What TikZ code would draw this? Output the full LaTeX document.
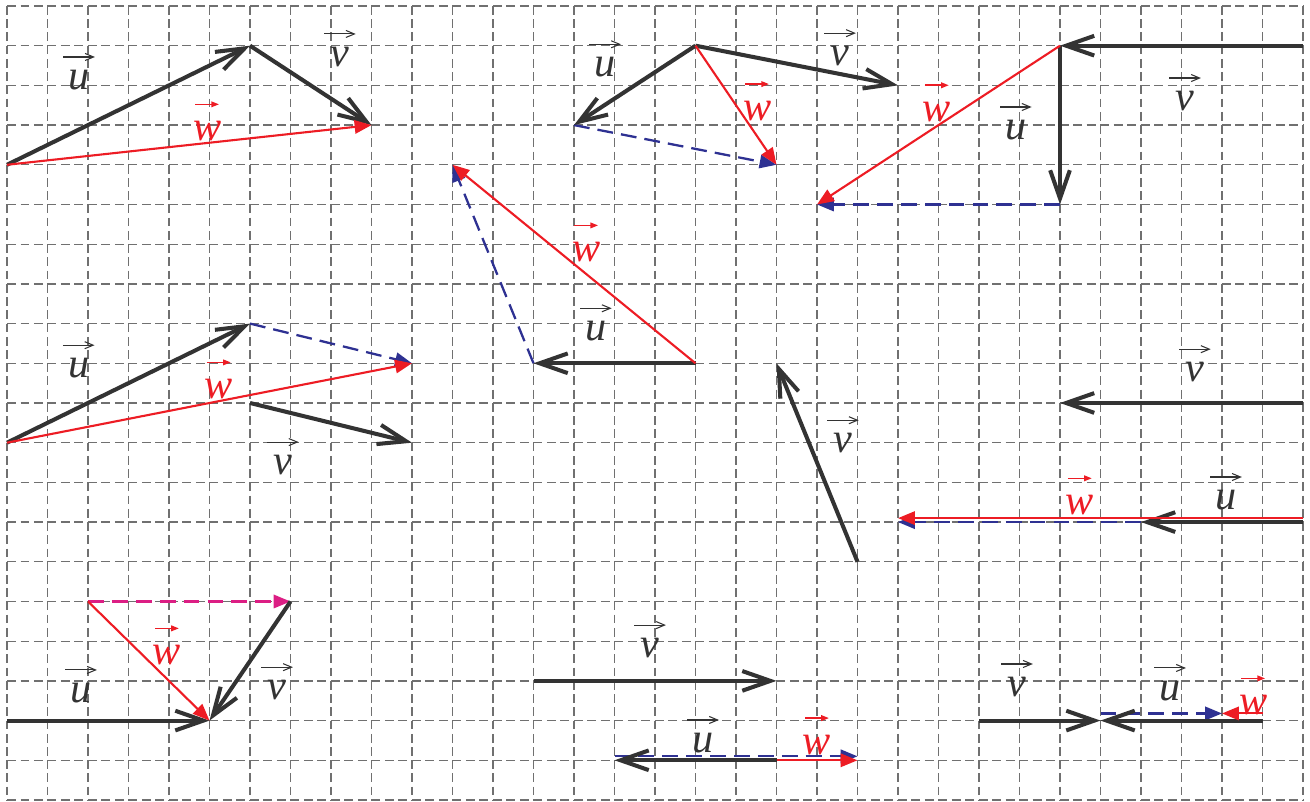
\documentclass[tikz,border=0pt]{standalone}
\usepackage{fontspec}
\setmainfont{Liberation Serif}
\usetikzlibrary{arrows.meta}
\usepackage{xcolor}
\definecolor{vecgray}{HTML}{333333}
\definecolor{gridgray}{HTML}{707070}
\definecolor{wred}{HTML}{ED1C24}
\definecolor{sumblue}{HTML}{2E3192}
\definecolor{summagenta}{HTML}{DC1E84}

\begin{document}
\begin{tikzpicture}[x=4.05mm, y=-3.97mm,
  gridv/.style={gridgray, line width=0.38pt, dash pattern=on 2.5pt off 1.265pt},
  gridh/.style={gridgray, line width=0.38pt, dash pattern=on 2.56pt off 1.28pt},
  vec/.style={vecgray, line width=1.15pt, -{Straight Barb[length=8pt,width=5.6pt]}},
  wvec/.style={wred, line width=0.6pt, -{Triangle[length=4.8pt,width=3.8pt]}},
  sumvec/.style={sumblue, line width=0.65pt, dash pattern=on 4.5pt off 2.3pt,
    -{Triangle[length=4.8pt,width=3.8pt]}},
  lbl/.style={vecgray, inner sep=0pt, font=\fontsize{12}{12}\selectfont\itshape},
  wlbl/.style={lbl, wred},
  lblarrow/.style={vecgray, line width=0.3pt, -{Straight Barb[length=2.4pt,width=2pt]}},
  wlblarrow/.style={wred, line width=0.45pt, -{Triangle[length=2.2pt,width=1.6pt]}}]

% === Wymiary ===
\useasboundingbox (-0.173,-0.151) rectangle (32.173,20.05);

% === Siatka ===
\foreach \i in {0,...,32} {
  \draw[gridv] (\i,0) -- (\i,20);
}
\foreach \j in {0,...,20} {
  \draw[gridh] (0,\j) -- (32,\j);
}

% === Punkty ===
% Figura 1
\coordinate (a1) at (0,4);
\coordinate (b1) at (6,1);
\coordinate (c1) at (9,3);
% Figura 2
\coordinate (a2) at (17,1);
\coordinate (b2) at (14,3);
\coordinate (c2) at (22,2);
\coordinate (d2) at (19,4);
% Figura 3
\coordinate (a3) at (32,1);
\coordinate (b3) at (26,1);
\coordinate (c3) at (26,5);
\coordinate (d3) at (20,5);
% Figura 4
\coordinate (a4) at (0,11);
\coordinate (b4) at (6,8);
\coordinate (c4) at (10,9);
\coordinate (d4) at (6,10);
\coordinate (e4) at (10,11);
% Figura 5
\coordinate (a5) at (17,9);
\coordinate (b5) at (13,9);
\coordinate (c5) at (11,4);
% Figura 6
\coordinate (a6) at (21,14);
\coordinate (b6) at (19,9);
% Figura 7
\coordinate (a7) at (32,10);
\coordinate (b7) at (26,10);
\coordinate (c7) at (32,13);
\coordinate (d7) at (28,13);
\coordinate (e7) at (22,13);
\coordinate (f7) at (32,12.9);
\coordinate (g7) at (22,12.9);
% Figura 8
\coordinate (a8) at (0,18);
\coordinate (b8) at (5,18);
\coordinate (c8) at (7,15);
\coordinate (d8) at (2,15);
% Figura 9
\coordinate (a9) at (13,17);
\coordinate (b9) at (19,17);
\coordinate (c9) at (19,19);
\coordinate (d9) at (15,19);
\coordinate (e9) at (21,19);
\coordinate (f9) at (15,18.9);
\coordinate (g9) at (21,18.9);
% Figura 10
\coordinate (a10) at (24,18);
\coordinate (b10) at (27,18);
\coordinate (c10) at (31,18);
\coordinate (d10) at (27,17.82);
\coordinate (e10) at (30,17.82);
\coordinate (f10) at (31,17.82);

% === Sumy (przerywane) ===
\draw[sumvec] (b2) -- (d2);
\draw[sumvec] (c3) -- (d3);
\draw[sumvec] (b4) -- (c4);
\draw[sumvec] (b5) -- (c5);
\draw[sumvec] (d7) -- (e7);
\draw[sumvec, summagenta] (d8) -- (c8);
\draw[sumvec] (f9) -- (g9);
\draw[sumvec] (d10) -- (e10);

% === Wektory u, v ===
\draw[vec] (a1) -- (b1);
\draw[vec] (b1) -- (c1);
\draw[vec] (a2) -- (b2);
\draw[vec] (a2) -- (c2);
\draw[vec] (a3) -- (b3);
\draw[vec] (b3) -- (c3);
\draw[vec] (a4) -- (b4);
\draw[vec] (d4) -- (e4);
\draw[vec] (a5) -- (b5);
\draw[vec] (a6) -- (b6);
\draw[vec] (a7) -- (b7);
\draw[vec] (c7) -- (d7);
\draw[vec] (a8) -- (b8);
\draw[vec] (c8) -- (b8);
\draw[vec] (a9) -- (b9);
\draw[vec] (c9) -- (d9);
\draw[vec] (a10) -- (b10);
\draw[vec] (c10) -- (b10);

% === Wektory w ===
\draw[wvec] (a1) -- (c1);
\draw[wvec] (a2) -- (d2);
\draw[wvec] (b3) -- (d3);
\draw[wvec] (a4) -- (c4);
\draw[wvec] (a5) -- (c5);
\draw[wvec] (f7) -- (g7);
\draw[wvec] (d8) -- (b8);
\draw[wvec] (c9) -- (e9);
\draw[wvec] (f10) -- (e10);

% === Etykiety ===
\node[lbl] (u1) at (1.78,1.86) {u};
\node[lbl] (v1) at (8.22,1.28) {v};
\node[wlbl] (w1) at (4.94,3.15) {w};
\node[lbl] (u2) at (14.77,1.54) {u};
\node[lbl] (v2) at (20.57,1.26) {v};
\node[wlbl] (w2) at (18.52,2.64) {w};
\node[lbl] (u3) at (24.91,3.12) {u};
\node[lbl] (v3) at (29.09,2.39) {v};
\node[wlbl] (w3) at (22.96,2.67) {w};
\node[lbl] (u4) at (1.77,9.12) {u};
\node[lbl] (v4) at (6.81,11.56) {v};
\node[wlbl] (w4) at (5.23,9.65) {w};
\node[lbl] (u5) at (14.54,8.19) {u};
\node[wlbl] (w5) at (14.30,6.20) {w};
\node[lbl] (v6) at (20.64,11.01) {v};
\node[lbl] (u7) at (30.10,12.44) {u};
\node[lbl] (v7) at (29.33,9.22) {v};
\node[wlbl] (w7) at (26.49,12.57) {w};
\node[lbl] (u8) at (1.83,17.30) {u};
\node[lbl] (v8) at (6.67,17.23) {v};
\node[wlbl] (w8) at (3.95,16.35) {w};
\node[lbl] (u9) at (17.19,18.56) {u};
\node[lbl] (v9) at (15.88,16.17) {v};
\node[wlbl] (w9) at (20.00,18.61) {w};
\node[lbl] (u10) at (28.72,17.25) {u};
\node[lbl] (v10) at (24.94,17.15) {v};
\node[wlbl] (w10) at (30.77,17.61) {w};

% Strzałki nad etykietami
\foreach \n in {u1,v1,u2,v2,u3,v3,u4,v4,u5,v6,u7,v7,u8,v8,u9,v9,u10,v10} {
  \draw[lblarrow] ([shift={(-4.5pt,6.5pt)}]\n.center) -- ++(9pt,0pt);
}
\foreach \n in {w1,w2,w3,w4,w5,w7,w8,w9,w10} {
  \draw[wlblarrow] ([shift={(-3.4pt,7.6pt)}]\n.center) -- ++(6.8pt,0pt);
}

\end{tikzpicture}
\end{document}
